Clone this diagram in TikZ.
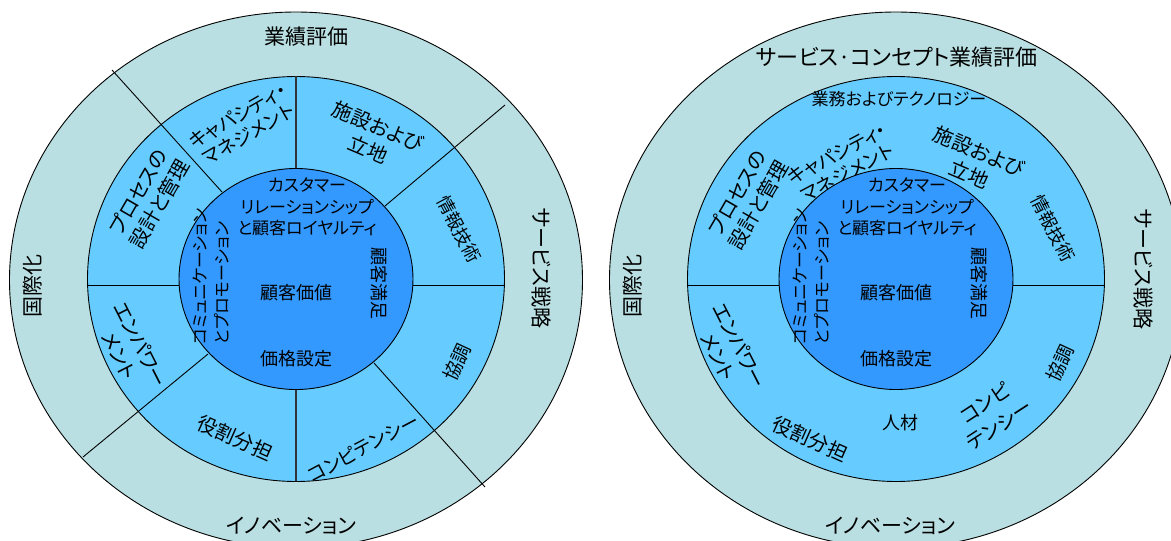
\documentclass[tikz,border=0pt]{standalone}
\usepackage{fontspec}
\setmainfont{Noto Sans CJK JP}
\newfontfamily\kana[RawFeature=+palt]{Noto Sans CJK JP}
\definecolor{outerc}{HTML}{B9DFE2}
\definecolor{midc}{HTML}{66CCFF}
\definecolor{innerc}{HTML}{3399FF}
\newcommand{\fz}[2]{\fontsize{#1}{#2}\selectfont}
\newcommand{\kz}[2]{\kana\fontsize{#1}{#2}\selectfont}
\begin{document}
\begin{tikzpicture}[x=1pt,y=-1pt,
  ring/.style={draw=black,line width=0.9pt},
  spoke/.style={draw=black,line width=0.9pt},
  vspoke/.style={draw=black!80,line width=1.3pt},
  lbl/.style={inner sep=0pt,align=center,text=black}]
\useasboundingbox (0,0) rectangle (1171,541);
\clip (0,0) rectangle (1171,541);

% ================= LEFT DIAGRAM =================
\draw[ring,fill=outerc] (296,280) ellipse [x radius=286.5pt, y radius=268pt];
\draw[ring,fill=midc] (296,279) ellipse [x radius=208.5pt, y radius=202.5pt];
\coordinate (La1) at (222,192); \coordinate (Lb1) at (112,70);
\coordinate (La2) at (385,206); \coordinate (Lb2) at (505,105);
\coordinate (La3) at (208,354); \coordinate (Lb3) at (83,457);
\coordinate (La4) at (374,363); \coordinate (Lb4) at (485,487);
\draw[spoke] (La1) -- (Lb1);
\draw[spoke] (La2) -- (Lb2);
\draw[spoke] (La3) -- (Lb3);
\draw[spoke] (La4) -- (Lb4);
\coordinate (Lv1a) at (296,169); \coordinate (Lv1b) at (296,76);
\coordinate (Lv2a) at (296,389); \coordinate (Lv2b) at (296,481);
\coordinate (Lh1a) at (87.5,285); \coordinate (Lh1b) at (179,285);
\coordinate (Lh2a) at (413,285); \coordinate (Lh2b) at (504.5,285);
\draw[vspoke] (Lv1a) -- (Lv1b);
\draw[vspoke] (Lv2a) -- (Lv2b);
\draw[spoke] (Lh1a) -- (Lh1b);
\draw[spoke] (Lh2a) -- (Lh2b);
\draw[ring,fill=innerc] (296,279) ellipse [x radius=117pt, y radius=110.5pt];

\node[lbl,font=\fz{21}{26}] (Ltop) at (306,37) {業績評価};
\node[lbl,font=\fz{21}{26},rotate=90] (Lleft) at (33,286) {国際化};
\node[lbl,font=\kz{21}{26},rotate=-90] (Lright) at (542,268) {サービス戦略};
\node[lbl,font=\kz{21}{24}] (Lbot) at (291,526) {イノベーション};
\node[lbl,font=\kz{19}{21.5},rotate=30] (Lcap) at (243,125) {キャパシティ・\\マネジメント};
\node[lbl,font=\kz{20}{25},rotate=-23] (Lfac) at (373,138) {施設および\\立地};
\node[lbl,font=\fz{18}{22},rotate=-62] (Lit) at (459,229) {情報技術};
\node[lbl,font=\fz{19}{23},rotate=65] (Lcoop) at (457,362) {協調};
\node[lbl,font=\kz{19}{21},rotate=28] (Lcomp) at (363,448) {コンピテンシー};
\node[lbl,font=\fz{20}{24},rotate=-24] (Lrole) at (235,438) {役割分担};
\node[lbl,font=\kz{20}{24},rotate=-63] (Lemp) at (130,350) {エンパワー\\メント};
\node[lbl,font=\kz{20}{24},rotate=60] (Lproc) at (149,198) {プロセスの\\設計と管理};
\node[lbl,font=\kz{17}{21.5}] (Lcrm) at (307,207) {カスタマー\\リレーションシップ\\と顧客ロイヤルティ};
\node[lbl,font=\fz{18}{22}] (Lval) at (296,293) {顧客価値};
\node[lbl,font=\fz{18}{22}] (Lprice) at (296,359) {価格設定};
\node[lbl,font=\fz{18}{22},rotate=-90] (Lsat) at (379,283) {顧客満足};
\node[lbl,font=\kz{17}{22},rotate=90,anchor=west,align=left] (Lpromo) at (211,345) {コミュニケーション\\とプロモーション};

% ================= RIGHT DIAGRAM =================
\draw[ring,fill=outerc] (896,280) ellipse [x radius=286.5pt, y radius=268pt];
\draw[ring,fill=midc] (896,279) ellipse [x radius=208.5pt, y radius=202.5pt];
\node[lbl,font=\kz{19}{21.5},rotate=28] (Rcap) at (842,163) {キャパシティ・\\マネジメント};
\coordinate (Rh1a) at (687.5,285); \coordinate (Rh1b) at (779,285);
\coordinate (Rh2a) at (1013,285); \coordinate (Rh2b) at (1104.5,285);
\draw[spoke] (Rh1a) -- (Rh1b);
\draw[spoke] (Rh2a) -- (Rh2b);
\draw[ring,fill=innerc] (896,279) ellipse [x radius=117pt, y radius=110.5pt];

\node[lbl,font=\kz{22}{26}] (Rtop) at (897,57) {サービス·コンセプト業績評価};
\node[lbl,font=\fz{21}{26},rotate=90] (Rleft) at (633,286) {国際化};
\node[lbl,font=\kz{21}{26},rotate=-90] (Rright) at (1144,269) {サービス戦略};
\node[lbl,font=\kz{21}{24}] (Rbot) at (890,526) {イノベーション};
\node[lbl,font=\kz{17}{20}] (Rtech) at (899,99) {業務およびテクノロジー};
\node[lbl,font=\kz{20}{25},rotate=-23] (Rfac) at (974,163) {施設および\\立地};
\node[lbl,font=\fz{18}{22},rotate=-63] (Rit) at (1053,228) {情報技術};
\node[lbl,font=\fz{19}{23},rotate=65] (Rcoop) at (1060,363) {協調};
\node[lbl,font=\kz{20}{26},rotate=33] (Rcomp) at (992,414) {コンピ\\テンシー};
\node[lbl,font=\fz{18}{22}] (Rhr) at (900,423) {人材};
\node[lbl,font=\fz{20}{24},rotate=-24] (Rrole) at (810,439) {役割分担};
\node[lbl,font=\kz{20}{24},rotate=-63] (Remp) at (729,351) {エンパワー\\メント};
\node[lbl,font=\kz{20}{24},rotate=60] (Rproc) at (748,199) {プロセスの\\設計と管理};
\node[lbl,font=\kz{17}{21.5}] (Rcrm) at (907,207) {カスタマー\\リレーションシップ\\と顧客ロイヤルティ};
\node[lbl,font=\fz{18}{22}] (Rval) at (896,293) {顧客価値};
\node[lbl,font=\fz{18}{22}] (Rprice) at (896,359) {価格設定};
\node[lbl,font=\fz{18}{22},rotate=-90] (Rsat) at (979,283) {顧客満足};
\node[lbl,font=\kz{17}{22},rotate=90,anchor=west,align=left] (Rpromo) at (811,345) {コミュニケーション\\とプロモーション};
\end{tikzpicture}
\end{document}
